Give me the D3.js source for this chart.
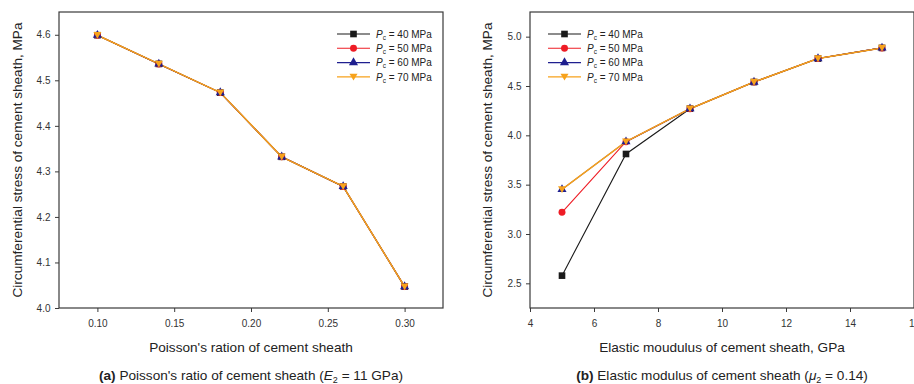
<!DOCTYPE html>
<html><head><meta charset="utf-8">
<script src="https://cdn.jsdelivr.net/npm/d3@7/dist/d3.min.js"></script>
<style>
body{margin:0;background:#fff;}
svg{display:block;font-family:"Liberation Sans",Arial,sans-serif;}
</style></head>
<body><svg id="c" width="914" height="384"></svg>
<script>
// ---- data ----
const seriesNames = ["40", "50", "60", "70"];
const seriesColors = ["#1a1a1a", "#ee1c25", "#1f1f8f", "#f7a21b"];
const seriesShapes = ["square", "circle", "triangleUp", "triangleDown"];

const xA = [0.10, 0.14, 0.18, 0.22, 0.26, 0.30];
const yA40 = [4.599, 4.536, 4.473, 4.332, 4.267, 4.047];
const yA50 = [4.599, 4.536, 4.473, 4.332, 4.267, 4.047];
const yA60 = [4.599, 4.536, 4.473, 4.332, 4.267, 4.047];
const yA70 = [4.599, 4.536, 4.473, 4.332, 4.267, 4.047];
const xTicksA = [0.10, 0.15, 0.20, 0.25, 0.30];
const yTicksA = [4.0, 4.1, 4.2, 4.3, 4.4, 4.5, 4.6];

const xB = [5, 7, 9, 11, 13, 15];
const yB40 = [2.578, 3.811, 4.270, 4.540, 4.778, 4.886];
const yB50 = [3.220, 3.936, 4.270, 4.540, 4.778, 4.886];
const yB60 = [3.452, 3.936, 4.270, 4.540, 4.778, 4.886];
const yB70 = [3.452, 3.936, 4.270, 4.540, 4.778, 4.886];
const xTicksB = [4, 6, 8, 10, 12, 14, 16];
const yTicksB = [2.5, 3.0, 3.5, 4.0, 4.5, 5.0];

const svg = d3.select("#c");
const axisColor = "#3a3a3a";
const textColor = "#222";
const lineWidths = [1.1, 1.1, 1.1, 1.5];

function symbolPath(shape) {
  const map = {
    square: d3.symbol(d3.symbolSquare, 44),
    circle: d3.symbol(d3.symbolCircle, 38),
    triangleUp: d3.symbol(d3.symbolTriangle, 36),
  };
  if (shape === "triangleDown") return "M-4,-3.2L4,-3.2L0,3.6Z";
  return map[shape]();
}

function panel(opts) {
  const g = svg.append("g");
  const x = d3.scaleLinear().domain(opts.xDomain).range([opts.left, opts.right]);
  const y = d3.scaleLinear().domain(opts.yDomain).range([opts.bottom, opts.top]);

  const ax = g.append("g").attr("transform", `translate(0,${opts.bottom})`)
    .call(d3.axisBottom(x).tickValues(opts.xTicks).tickFormat(opts.xFmt).tickSize(4).tickSizeOuter(0));
  const ay = g.append("g").attr("transform", `translate(${opts.left},0)`)
    .call(d3.axisLeft(y).tickValues(opts.yTicks).tickFormat(d3.format(".1f")).tickSize(4).tickSizeOuter(0));
  [ax, ay].forEach(a => {
    a.select(".domain").remove();
    a.selectAll("line").attr("stroke", axisColor);
    a.selectAll("text").attr("fill", "#333").attr("font-size", 10)
      .attr("font-family", "Liberation Sans, Arial, sans-serif");
  });
  ax.selectAll("text").attr("dy", "1.2em");
  ay.selectAll("text").attr("dx", "-0.15em");

  g.append("rect").attr("x", opts.left).attr("y", opts.top)
    .attr("width", opts.right - opts.left).attr("height", opts.bottom - opts.top)
    .attr("fill", "none").attr("stroke", axisColor).attr("stroke-width", 1.2);

  const line = d3.line().x((d, i) => x(opts.xs[i])).y(d => y(d));
  opts.ys.forEach((ys, k) => {
    g.append("path").attr("d", line(ys)).attr("fill", "none")
      .attr("stroke", seriesColors[k]).attr("stroke-width", lineWidths[k]);
  });
  opts.ys.forEach((ys, k) => {
    g.selectAll(null).data(ys).enter().append("path")
      .attr("d", symbolPath(seriesShapes[k]))
      .attr("transform", (d, i) => `translate(${x(opts.xs[i])},${y(d)})`)
      .attr("fill", seriesColors[k]);
  });

  const lg = g.append("g");
  seriesNames.forEach((n, k) => {
    const yy = opts.legY + k * 14.3;
    lg.append("line").attr("x1", opts.legX).attr("x2", opts.legX + 33)
      .attr("y1", yy).attr("y2", yy).attr("stroke", seriesColors[k]).attr("stroke-width", 1.1);
    lg.append("path").attr("d", symbolPath(seriesShapes[k]))
      .attr("transform", `translate(${opts.legX + 16.5},${yy})`).attr("fill", seriesColors[k]);
    const t = lg.append("text").attr("x", opts.legX + 39).attr("y", yy + 3.6)
      .attr("font-size", 10).attr("fill", textColor);
    t.append("tspan").attr("font-style", "italic").text("P");
    t.append("tspan").attr("font-size", 6.5).attr("dy", 2).text("c");
    t.append("tspan").attr("dy", -2).text(" = " + n + " MPa");
  });

  g.append("text")
    .attr("transform", `translate(${opts.yTitleX},${(opts.top + opts.bottom) / 2}) rotate(-90)`)
    .attr("text-anchor", "middle").attr("dy", "0.35em")
    .attr("font-size", 13.6).attr("fill", textColor)
    .text("Circumferential stress of cement sheath, MPa");
  g.append("text").attr("x", opts.cx).attr("y", 352)
    .attr("text-anchor", "middle").attr("font-size", 13.6).attr("fill", textColor)
    .text(opts.xTitle);
  const cap = g.append("text").attr("x", opts.cx).attr("y", 380)
    .attr("text-anchor", "middle").attr("font-size", 13.6).attr("fill", textColor);
  opts.caption(cap);
}

panel({
  left: 59, right: 443, top: 12, bottom: 308,
  xDomain: [0.075, 0.325], yDomain: [4.0, 4.65],
  xTicks: xTicksA, yTicks: yTicksA, xFmt: d3.format(".2f"),
  xs: xA, ys: [yA40, yA50, yA60, yA70],
  legX: 337, legY: 34, yTitleX: 17, cx: 251,
  xTitle: "Poisson's ration of cement sheath",
  caption: t => {
    t.append("tspan").attr("font-weight", "bold").text("(a)");
    t.append("tspan").text(" Poisson's ratio of cement sheath (");
    t.append("tspan").attr("font-style", "italic").text("E");
    t.append("tspan").attr("font-size", 9).attr("dy", 3).text("2");
    t.append("tspan").attr("dy", -3).text(" = 11 GPa)");
  }
});

panel({
  left: 530, right: 914, top: 12, bottom: 308,
  xDomain: [4, 16], yDomain: [2.25, 5.25],
  xTicks: xTicksB, yTicks: yTicksB, xFmt: d3.format("d"),
  xs: xB, ys: [yB40, yB50, yB60, yB70],
  legX: 548, legY: 34, yTitleX: 487, cx: 722,
  xTitle: "Elastic moudulus of cement sheath, GPa",
  caption: t => {
    t.append("tspan").attr("font-weight", "bold").text("(b)");
    t.append("tspan").text(" Elastic modulus of cement sheath (");
    t.append("tspan").attr("font-style", "italic").text("μ");
    t.append("tspan").attr("font-size", 9).attr("dy", 3).text("2");
    t.append("tspan").attr("dy", -3).text(" = 0.14)");
  }
});
</script></body></html>
